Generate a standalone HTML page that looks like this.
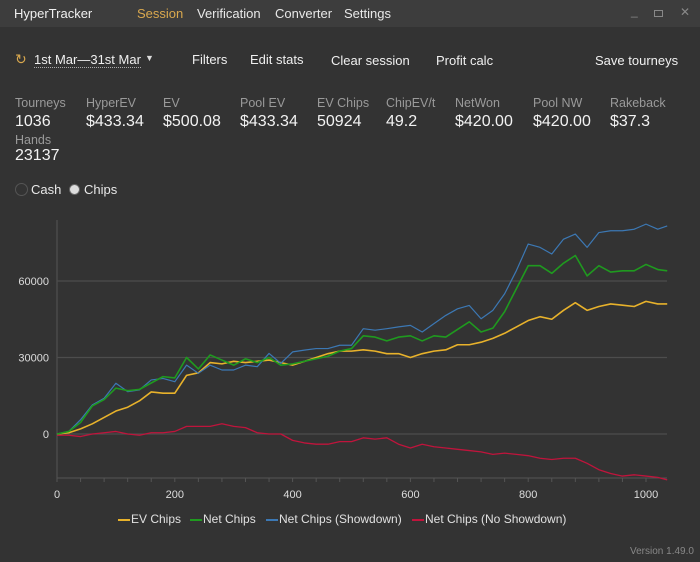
<!DOCTYPE html>
<html><head><meta charset="utf-8"><style>
body{margin:0;width:700px;height:562px;background:#333333;font-family:"Liberation Sans",sans-serif;color:#e8e8e8;overflow:hidden;position:relative}
.abs{position:absolute;white-space:nowrap}
#titlebar{position:absolute;left:0;top:0;width:700px;height:27px;background:#3d3d3d}
.nav{font-size:13px;top:6px}
.tb{font-size:13px;top:52px;color:#f0f0f0}
.sl{font-size:12.5px;color:#9a9a9a;top:96px}
.sv{font-size:16px;color:#f2f2f2;top:113px}
.lg{font-size:12px;top:512px;color:#e0e0e0}
</style></head><body>
<div id="titlebar"></div>
<div class="abs nav" style="left:14px;color:#f0f0f0">HyperTracker</div>
<div class="abs nav" style="left:137px;color:#d9a84e">Session</div>
<div class="abs nav" style="left:197px">Verification</div>
<div class="abs nav" style="left:275px">Converter</div>
<div class="abs nav" style="left:344px">Settings</div>
<div class="abs" style="left:631px;top:4px;font-size:12px;color:#888">_</div>
<div class="abs" style="left:654px;top:10px;width:7px;height:5px;border:1px solid #888"></div>
<div class="abs" style="left:680px;top:5px;font-size:12px;color:#888">✕</div>

<div class="abs" style="left:15px;top:51px;font-size:14px;color:#d9a84e">↻</div>
<div class="abs tb" style="left:34px;border-bottom:1px dotted #aaa">1st Mar—31st Mar</div>
<div class="abs" style="left:145px;top:53px;font-size:9px;color:#ddd">▼</div>
<div class="abs tb" style="left:192px">Filters</div>
<div class="abs tb" style="left:250px">Edit stats</div>
<div class="abs tb" style="left:331px;top:53px">Clear session</div>
<div class="abs tb" style="left:436px;top:53px">Profit calc</div>
<div class="abs tb" style="left:595px;top:53px">Save tourneys</div>

<div class="abs sl" style="left:15px">Tourneys</div><div class="abs sv" style="left:15px">1036</div>
<div class="abs sl" style="left:86px">HyperEV</div><div class="abs sv" style="left:86px">$433.34</div>
<div class="abs sl" style="left:163px">EV</div><div class="abs sv" style="left:163px">$500.08</div>
<div class="abs sl" style="left:240px">Pool EV</div><div class="abs sv" style="left:240px">$433.34</div>
<div class="abs sl" style="left:317px">EV Chips</div><div class="abs sv" style="left:317px">50924</div>
<div class="abs sl" style="left:386px">ChipEV/t</div><div class="abs sv" style="left:386px">49.2</div>
<div class="abs sl" style="left:455px">NetWon</div><div class="abs sv" style="left:455px">$420.00</div>
<div class="abs sl" style="left:533px">Pool NW</div><div class="abs sv" style="left:533px">$420.00</div>
<div class="abs sl" style="left:610px">Rakeback</div><div class="abs sv" style="left:610px">$37.3</div>
<div class="abs sl" style="left:15px;top:133px">Hands</div><div class="abs sv" style="left:15px;top:147px">23137</div>

<div class="abs" style="left:15px;top:183px;width:11px;height:11px;border:1px solid #555;border-radius:50%"></div>
<div class="abs" style="left:31px;top:182px;font-size:13px">Cash</div>
<div class="abs" style="left:69px;top:184px;width:9px;height:9px;background:#ddd;border:1px solid #666;border-radius:50%"></div>
<div class="abs" style="left:84px;top:182px;font-size:13px">Chips</div>

<svg id="chart" class="abs" style="left:0;top:0" width="700" height="562"></svg>

<div class="abs" style="left:118px;top:519px;width:12px;height:2px;background:#e8b22b"></div>
<div class="abs lg" style="left:131px">EV Chips</div>
<div class="abs" style="left:190px;top:519px;width:12px;height:2px;background:#1f9a1f"></div>
<div class="abs lg" style="left:203px">Net Chips</div>
<div class="abs" style="left:266px;top:519px;width:12px;height:2px;background:#3c78b4"></div>
<div class="abs lg" style="left:279px">Net Chips (Showdown)</div>
<div class="abs" style="left:412px;top:519px;width:12px;height:2px;background:#c0143c"></div>
<div class="abs lg" style="left:425px">Net Chips (No Showdown)</div>
<div class="abs" style="left:630px;top:546px;font-size:10px;color:#888">Version 1.49.0</div>

<script>
const xs = [0,20,40,60,80,100,120,140,160,180,200,220,240,260,280,300,320,340,360,380,400,420,440,460,480,500,520,540,560,580,600,620,640,660,680,700,720,740,760,780,800,820,840,860,880,900,920,940,960,980,1000,1020,1036];
const showdown = [0,1000,5600,11400,14000,19900,16600,17300,21200,21800,20500,27000,23800,27000,25100,25100,27000,26400,31600,27700,32200,32900,33500,33500,34800,34800,41300,40700,41300,42000,42600,40000,43300,46500,49100,50400,45200,48500,55000,64100,74500,73200,70600,76400,78400,73200,79000,79700,79700,80300,82300,80300,81600];
const netChips = [0,1000,4500,11000,13500,18000,17000,17500,20000,22500,22000,30000,25500,31000,29000,27000,29500,28000,30000,27000,27500,28500,29500,30500,32500,33500,38500,38000,36500,38000,38500,36500,38500,38000,41000,44000,40000,41500,48000,57000,66000,66000,63000,67000,70000,62000,66000,63500,64000,64000,66500,64500,64000];
const evChips = [0,500,2000,4000,6500,9000,10500,13000,16500,16000,16000,23000,24000,28000,27500,28500,28000,28500,29000,28000,27000,28500,30000,31500,32500,32500,33000,32500,31500,31500,30000,31500,32500,33000,35000,35000,36000,37500,39500,42000,44500,46000,45000,48500,51500,48500,50000,51000,50500,50000,52000,51000,51000];
const noShowdown = [-500,-500,-1000,0,500,1000,0,-500,500,500,1000,3000,3000,3000,4000,3000,2500,500,0,0,-2500,-3500,-4000,-4000,-3000,-3000,-1500,-2000,-1500,-4000,-5500,-4000,-5000,-5500,-6000,-6500,-7000,-8000,-7500,-8000,-8500,-9500,-10000,-9500,-9500,-11500,-14000,-15500,-16500,-16000,-16500,-17000,-18000];
const yTicks = [0,30000,60000];
const xTicks = [0,200,400,600,800,1000];

const svg = document.getElementById('chart');
const NS = 'http://www.w3.org/2000/svg';
const X = v => 57 + v * 0.589;
const Y = v => 434 - v * 76.5 / 30000;
function mk(tag, attrs){const e=document.createElementNS(NS,tag);for(const k in attrs)e.setAttribute(k,attrs[k]);svg.appendChild(e);return e;}

const ax = mk('line',{x1:57,x2:57,y1:220,y2:478,stroke:'#555','stroke-width':1});


const bx = mk('line',{x1:57,x2:667,y1:478,y2:478,stroke:'#555','stroke-width':1});


yTicks.forEach(t=>{
  const g = mk('line',{x1:57,x2:667,y1:Y(t),y2:Y(t),stroke:'#4d4d4d','stroke-width':1.3});
  
  
  const l = mk('text',{x:49,y:Y(t)+4,fill:'#ddd','font-size':11,'text-anchor':'end','font-family':'Liberation Sans'});
  l.textContent = t;
  
  
});
for(let t=0;t<=1020;t+=40){
  const tk = mk('line',{x1:X(t),x2:X(t),y1:478,y2:482,stroke:'#555'});
  
  
}
xTicks.forEach(t=>{
  const l = mk('text',{x:X(t),y:498,fill:'#ddd','font-size':11,'text-anchor':'middle','font-family':'Liberation Sans'});
  l.textContent = t;
  
  
});
function series(vals,color,w,name){
  const p = mk('polyline',{points:vals.map((v,i)=>X(xs[i])+','+Y(v)).join(' '),fill:'none',stroke:color,'stroke-width':w,'stroke-linejoin':'round'});
  
  
}
series(noShowdown,'#c0143c',1.3,'net-chips-no-showdown-line');
series(evChips,'#e8b22b',1.6,'ev-chips-line');
series(showdown,'#3c78b4',1.2,'net-chips-showdown-line');
series(netChips,'#1f9a1f',1.6,'net-chips-line');
</script>
</body></html>
